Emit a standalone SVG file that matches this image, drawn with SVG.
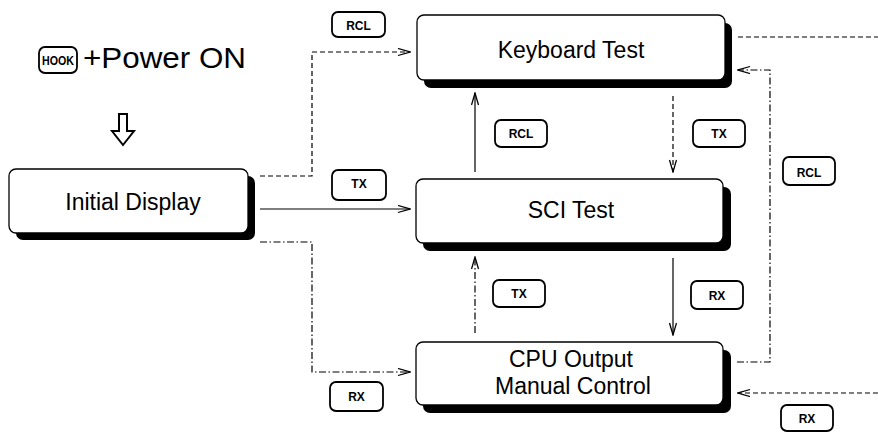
<svg xmlns="http://www.w3.org/2000/svg" width="878" height="432" viewBox="0 0 878 432">
<style>
.sh{fill:#000;stroke:none}
.bx{fill:#fff;stroke:#000;stroke-width:1.3}
.lbl{font-family:"Liberation Sans",Arial,sans-serif;font-size:23px;fill:#000;text-anchor:middle}
.key{fill:#fff;stroke:#000;stroke-width:1.8}
.kt{font-family:"Liberation Sans",Arial,sans-serif;font-weight:bold;font-size:12px;fill:#000;text-anchor:middle}
.c{fill:none;stroke:#000;stroke-width:1.2}
.dash{stroke-dasharray:5 3}
.dd{stroke-dasharray:7 2.5 1.5 2.5}
</style>
<defs>
<marker id="ah" markerUnits="userSpaceOnUse" markerWidth="14" markerHeight="10" refX="13" refY="4" orient="auto">
<path d="M1,0.5 L13,4 L1,7.5" fill="none" stroke="#000" stroke-width="1.3"/>
</marker>
</defs>

<g id="start">
<rect class="key" x="39" y="47" width="38" height="26" rx="6"/>
<text class="kt" x="58" y="64.5" font-size="11" textLength="32" lengthAdjust="spacingAndGlyphs">HOOK</text>
<text x="83" y="68" font-family="Liberation Sans,Arial,sans-serif" font-size="29" fill="#000" textLength="163" lengthAdjust="spacingAndGlyphs">+Power ON</text>
<path d="M119,114 L127,114 L127,131 L134,131 L123,145 L112,131 L119,131 Z" fill="#fff" stroke="#000" stroke-width="2"/>
</g>

<g id="initial">
<rect class="sh" x="16" y="176" width="239" height="64" rx="7"/>
<rect class="bx" x="9" y="169" width="239" height="64" rx="7"/>
<text class="lbl" x="133" y="210">Initial Display</text>
</g>

<g id="keyboard">
<rect class="sh" x="424" y="23" width="308" height="65" rx="7"/>
<rect class="bx" x="417" y="15" width="308" height="65" rx="7"/>
<text class="lbl" x="571" y="58">Keyboard Test</text>
</g>

<g id="sci">
<rect class="sh" x="423" y="187" width="308" height="64" rx="7"/>
<rect class="bx" x="416" y="179" width="307" height="64" rx="7"/>
<text class="lbl" x="571" y="218">SCI Test</text>
</g>

<g id="cpu">
<rect class="sh" x="423" y="350" width="308" height="63" rx="7"/>
<rect class="bx" x="416" y="342" width="307" height="63" rx="7"/>
<text class="lbl" x="571" y="367">CPU Output</text>
<text class="lbl" x="573" y="394">Manual Control</text>
</g>

<g id="connectors">
<path class="c dash" d="M260,176 H312 V52 H410" marker-end="url(#ah)"/>
<path class="c" d="M260,209 H410" marker-end="url(#ah)"/>
<path class="c dd" d="M260,242 H312 V372 H410" marker-end="url(#ah)"/>
<path class="c" d="M475,172 V93" marker-end="url(#ah)"/>
<path class="c dash" d="M673,96 V172" marker-end="url(#ah)"/>
<path class="c" d="M673,258 V335" marker-end="url(#ah)"/>
<path class="c dd" d="M475,333 V257" marker-end="url(#ah)"/>
<path class="c dd" d="M737,362 H770 V70 H738" marker-end="url(#ah)"/>
<path class="c dash" d="M738,37 H878"/>
<path class="c dash" d="M878,393 H738" marker-end="url(#ah)"/>
</g>

<g id="keys">
<rect class="key" x="332" y="12" width="53" height="25" rx="6"/>
<text class="kt" x="358.5" y="29.5" font-size="13">RCL</text>
<rect class="key" x="495" y="120" width="52" height="27" rx="6"/>
<text class="kt" x="521" y="138">RCL</text>
<rect class="key" x="693" y="120" width="52" height="27" rx="6"/>
<text class="kt" x="719" y="138">TX</text>
<rect class="key" x="783" y="157" width="52" height="28" rx="6"/>
<text class="kt" x="809" y="176.5" font-size="15">RCL</text>
<rect class="key" x="332" y="170" width="54" height="30" rx="6"/>
<text class="kt" x="359" y="188">TX</text>
<rect class="key" x="493" y="280" width="52" height="27" rx="6"/>
<text class="kt" x="519" y="298">TX</text>
<rect class="key" x="691" y="281" width="52" height="28" rx="6"/>
<text class="kt" x="717" y="299.5">RX</text>
<rect class="key" x="330" y="382" width="53" height="29" rx="6"/>
<text class="kt" x="356.5" y="401">RX</text>
<rect class="key" x="781" y="405" width="52" height="26" rx="6"/>
<text class="kt" x="807" y="422.5">RX</text>
</g>
</svg>
